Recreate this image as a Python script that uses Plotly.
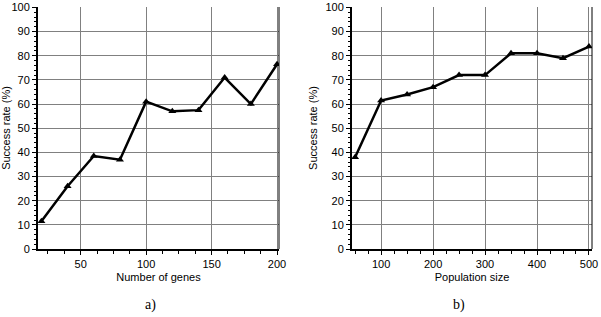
import plotly.graph_objects as go

# Panel a)
genes = [20, 40, 60, 80, 100, 120, 140, 160, 180, 200]
rate_genes = [11.5, 26, 38.5, 37, 61, 57, 57.5, 71, 60, 76.5]
# Panel b)
pop = [50, 100, 150, 200, 250, 300, 350, 400, 450, 500]
rate_pop = [38, 61.5, 64, 67, 72, 72, 81, 81, 79, 83.8]

W, H = 601, 317
FONT = "Liberation Sans, Arial, sans-serif"

def px(x):
    return x / W

def py(y):
    return (H - y) / H

fig = go.Figure()
line = dict(color="black", width=2.5)
marker = dict(symbol="triangle-up", size=7, color="black")
fig.add_trace(go.Scatter(x=genes, y=rate_genes, mode="lines+markers", line=line,
                         marker=marker, xaxis="x", yaxis="y", showlegend=False))
fig.add_trace(go.Scatter(x=pop, y=rate_pop, mode="lines+markers", line=line,
                         marker=marker, xaxis="x2", yaxis="y2", showlegend=False))

tickfont = dict(family=FONT, size=11, color="black")

def xax(domain, rng, dtick, minor, anchor, title):
    return dict(domain=domain, range=rng, dtick=dtick, tick0=0, anchor=anchor,
                automargin=False,
                showgrid=True, gridcolor="#808080", gridwidth=1, zeroline=False,
                showline=True, linecolor="black", linewidth=2,
                ticks="outside", ticklen=4, tickcolor="black", tickwidth=1,
                minor=dict(dtick=minor, tick0=0, ticks="outside", ticklen=3,
                           tickcolor="black", showgrid=False),
                tickfont=tickfont,
                title=dict(text=title, font=dict(family=FONT, size=11, color="black"),
                           standoff=4),
                fixedrange=True)

def yax(domain, anchor):
    return dict(domain=domain, range=[0, 100.2], dtick=10, tick0=0, anchor=anchor,
                automargin=False,
                showgrid=True, gridcolor="#808080", gridwidth=1, zeroline=False,
                showline=True, linecolor="black", linewidth=2,
                ticks="outside", ticklen=4, tickcolor="black", tickwidth=1,
                minor=dict(dtick=2, tick0=0, ticks="outside", ticklen=2,
                           tickcolor="black", showgrid=False),
                tickfont=tickfont,
                title=dict(text="Success rate (%)",
                           font=dict(family=FONT, size=11, color="black"), standoff=6),
                fixedrange=True)

ydom = [py(249), py(7)]
fig.update_layout(
    width=W, height=H,
    margin=dict(l=0, r=0, t=0, b=0, autoexpand=False),
    paper_bgcolor="white", plot_bgcolor="white",
    xaxis=xax([px(38), px(279)], [17.4, 201.5], 50, 12.5, "y", "Number of genes"),
    yaxis=yax(ydom, "x"),
    xaxis2=xax([px(352), px(592)], [44, 505.8], 100, 25, "y2", "Population size"),
    yaxis2=yax(ydom, "x2"),
    shapes=[
        dict(type="line", xref="x domain", yref="y domain", x0=1, x1=1, y0=0, y1=1,
             line=dict(color="black", width=1)),
        dict(type="line", xref="x2 domain", yref="y2 domain", x0=1, x1=1, y0=0, y1=1,
             line=dict(color="black", width=1)),
    ],
    annotations=[
        dict(text="a)", x=px(150), y=py(305), xref="paper", yref="paper",
             xanchor="center", yanchor="middle",
             showarrow=False, font=dict(family="Liberation Serif, Times New Roman, serif",
                                        size=14, color="black")),
        dict(text="b)", x=px(459), y=py(305), xref="paper", yref="paper",
             xanchor="center", yanchor="middle",
             showarrow=False, font=dict(family="Liberation Serif, Times New Roman, serif",
                                        size=14, color="black")),
    ],
)

fig.write_html("out.html", config={"displayModeBar": False},
               post_script="document.body.style.margin='0';document.body.style.padding='0';")
